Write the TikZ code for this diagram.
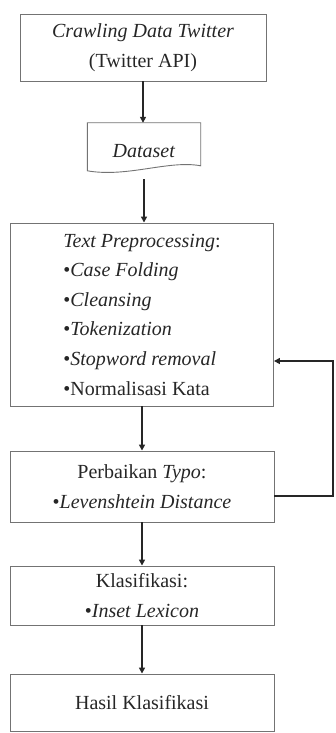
\documentclass[tikz,border=0pt]{standalone}
\usepackage{fontspec}
\setmainfont{Liberation Serif}
\usetikzlibrary{arrows.meta,calc}
\begin{document}
\begin{tikzpicture}[x=1pt,y=-1pt,
  txt/.style={font=\fontsize{20}{29.6}\selectfont, text=black!85},
  box/.style={txt, draw=black!55, line width=0.9pt, minimum width=264pt, inner sep=0pt},
  arr/.style={draw=black!85, line width=1.7pt, -{Triangle[length=6pt,width=6pt]}}]
\useasboundingbox (0,0) rectangle (335,733);

\node[box, minimum width=246pt, minimum height=67pt, align=center] (b1) at (143,47.5)
  {\textit{Crawling Data Twitter}\\(Twitter API)};

\node[txt, minimum width=113pt, minimum height=56pt, inner sep=0pt] (ds) at (144,151) {\textit{Dataset}};
\draw[draw=black!55, line width=0.9pt]
  (ds.north west) -- (ds.north east) -- ($(ds.north east)+(0,43)$)
  .. controls ($(ds.north east)+(-32,37)$) and ($(ds.north west)+(40,55)$) .. ($(ds.north west)+(0,48)$) -- cycle;

\node[box, minimum width=263pt, minimum height=183pt, align=left] (b3) at (142,314.5)
  {\textit{Text Preprocessing}:\\
   •\textit{Case Folding}\\
   •\textit{Cleansing}\\
   •\textit{Tokenization}\\
   •\textit{Stopword removal}\\
   •Normalisasi Kata};

\node[box, minimum height=71pt, align=center] (b4) at (142,486.5)
  {Perbaikan \textit{Typo}:\\•\textit{Levenshtein Distance}};

\node[box, minimum height=59pt, align=center] (b5) at (142,595.5)
  {Klasifikasi:\\•\textit{Inset Lexicon}};

\node[box, minimum height=57pt] (b6) at (142,702.5) {Hasil Klasifikasi};

\draw[arr] (b1.south) -- (b1.south |- ds.north);
\draw[arr] (ds.south) -- (ds.south |- b3.north);
\draw[arr] (b3.south) -- (b4.north);
\draw[arr] (b4.south) -- (b5.north);
\draw[arr] (b5.south) -- (b6.north);

\coordinate (fb1) at (333,496);
\coordinate (fb2) at (333,361);
\draw[arr] (b4.east |- fb1) -- (fb1) -- (fb2) -- (b3.east |- fb2);
\end{tikzpicture}
\end{document}
